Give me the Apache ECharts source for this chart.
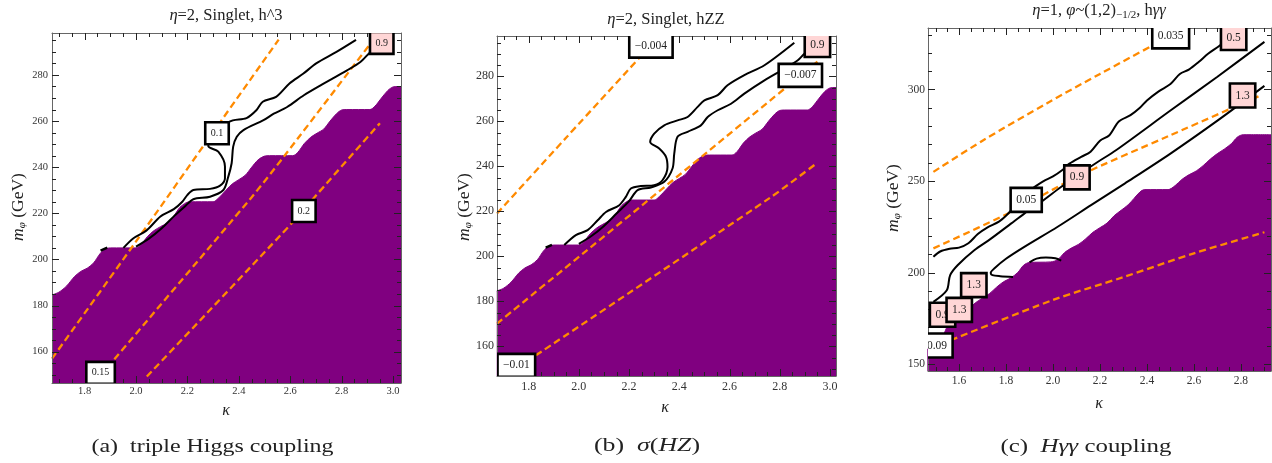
<!DOCTYPE html>
<html><head><meta charset="utf-8">
<script src="https://cdn.jsdelivr.net/npm/echarts@6/dist/echarts.min.js"></script>
<style>html,body{margin:0;padding:0;background:#fff}#c{width:1272px;height:463px}</style>
</head><body><div id="c"></div>
<script>
// ---------------- tick labels ----------------
const kappaTicksAB = [1.8, 2.0, 2.2, 2.4, 2.6, 2.8, 3.0];
const massTicksAB = [160, 180, 200, 220, 240, 260, 280];
const kappaTicksC = [1.6, 1.8, 2.0, 2.2, 2.4, 2.6, 2.8];
const massTicksC = [150, 200, 250, 300];

// ---------------- excluded (purple) regions ----------------
const excludedSinglet = [[1.673,184.6],[1.70,185.8],[1.73,188.5],[1.76,192.5],[1.785,194.8],[1.81,196.2],[1.835,198.5],[1.86,202.5],[1.88,204.5],[1.90,205],[2.00,205],[2.02,206.5],[2.045,210],[2.07,212.5],[2.095,214.2],[2.12,215.8],[2.145,218.5],[2.17,222.5],[2.195,224.6],[2.21,225],[2.30,225],[2.32,226.5],[2.35,230],[2.375,232.8],[2.40,234.6],[2.425,236.5],[2.45,240],[2.475,243.2],[2.50,244.8],[2.52,245],[2.61,245],[2.63,246.5],[2.655,250.3],[2.68,253],[2.705,254.8],[2.73,256.5],[2.755,260],[2.78,263.2],[2.80,264.8],[2.82,265],[2.91,265],[2.93,266.5],[2.955,270],[2.98,273.3],[3.00,274.8],[3.02,275],[3.035,275]];
const excludedDoublet = [[1.465,158],[1.50,161],[1.53,165],[1.555,172],[1.58,175.5],[1.61,177.5],[1.64,180],[1.67,183.5],[1.70,186],[1.73,188.5],[1.76,192],[1.79,195],[1.82,197],[1.85,200],[1.875,204],[1.90,205.5],[1.99,205.8],[2.02,207],[2.05,211],[2.08,213.5],[2.11,215.5],[2.14,218.5],[2.17,222],[2.20,224.5],[2.23,227],[2.26,231],[2.29,234],[2.32,237],[2.345,240.5],[2.37,244],[2.39,245.3],[2.49,245.3],[2.52,247.5],[2.55,251],[2.58,253.5],[2.61,255.5],[2.64,258.5],[2.67,262],[2.70,265],[2.73,267.5],[2.76,270.5],[2.785,274],[2.81,275.3],[2.93,275.3]];

// ---------------- (a) h^3 ----------------
const h3Dashed1 = [[1.673,157],[2.0,207.8],[2.3,255.2],[2.555,295.3]];
const h3Dashed2 = [[1.86,149.5],[1.905,155.3],[2.45,227],[2.58,245.3],[2.923,295.2]];
const h3Dashed3 = [[2.042,149.2],[2.606,215.7],[2.696,227.2],[2.949,259.1]];
const h3ContourUpper = [[1.951,205],[1.99,209.2],[2.04,212.5],[2.095,218.6],[2.147,221.8],[2.18,225],[2.2,228],[2.223,230.1],[2.288,230.6],[2.327,232],[2.346,235.2],[2.346,240.3],[2.32,246.7],[2.281,249.2],[2.363,259.7],[2.43,261.3],[2.469,264.8],[2.493,268.4],[2.545,270.5],[2.597,276.3],[2.65,280.5],[2.701,285],[2.78,290],[2.856,295.2]];
const h3ContourLower = [[2.0,205.5],[2.05,209],[2.10,213.5],[2.15,219],[2.19,223],[2.223,226.1],[2.288,227.2],[2.34,230.1],[2.359,235.9],[2.372,241.7],[2.378,248.9],[2.392,253.2],[2.418,256.1],[2.496,260.4],[2.536,263.2],[2.588,266.1],[2.653,271.2],[2.718,275.5],[2.821,282],[2.873,285.6],[2.912,290],[2.94,292.5]];
const h3Stub = [[1.862,203.8],[1.888,205.1]];
const h3LabelsWhite = [[1.862,150.8,'0.15'],[2.315,254.7,'0.1'],[2.653,221,'0.2']];
const h3LabelsPink = [[2.956,293.9,'0.9']];

// ---------------- (b) hZZ ----------------
const hzzDashed1 = [[1.674,219],[1.95,252.8],[2.26,290.5]];
const hzzDashed2 = [[1.674,170.1],[2.51,246.2],[2.95,286.5]];
const hzzDashed3 = [[1.829,156],[2.761,226],[2.95,241.6]];
const hzzContourUpper = [[1.942,205],[1.988,209.4],[2.035,211.6],[2.075,216],[2.108,219.7],[2.161,222.7],[2.187,226.4],[2.207,230.1],[2.247,231.2],[2.3,231.6],[2.333,233.8],[2.353,239.7],[2.347,244.2],[2.32,247.9],[2.284,250.8],[2.3,254.5],[2.34,258.2],[2.393,260.4],[2.433,261.9],[2.473,266.4],[2.5,269.3],[2.553,271.6],[2.592,276],[2.659,280.5],[2.739,284.9],[2.858,294.9]];
const hzzContourLower = [[2.0,205.5],[2.05,209],[2.1,213.5],[2.15,219],[2.2,224.5],[2.234,229.4],[2.287,230.6],[2.34,233.1],[2.373,239],[2.38,245.7],[2.393,253.1],[2.433,255.3],[2.486,258.2],[2.513,261.9],[2.553,264.9],[2.606,267.8],[2.659,272.3],[2.739,278.2],[2.819,283.4],[2.872,287.1],[2.899,290.1],[2.93,292.5]];
const hzzStub = [[1.868,203.8],[1.893,205.1]];
const hzzLabelsWhite = [[2.287,293.4,'\u22120.004'],[2.882,280.4,'\u22120.007'],[1.751,151.5,'\u22120.01']];
const hzzLabelsPink = [[2.95,293.7,'0.9']];

// ---------------- (c) hγγ ----------------
const hggDashed1 = [[1.491,255],[1.7,272],[1.973,292.4],[2.2,308.5],[2.426,324.2]];
const hggDashed2 = [[1.491,213.2],[1.824,233.2],[2.114,253],[2.5,275],[2.886,296.9]];
const hggDashed3 = [[1.565,163],[2.0,185],[2.3,197.5],[2.6,210.5],[2.9,222]];
const hggContourWavy = [[1.491,208.6],[1.52,211.5],[1.56,213],[1.60,213.6],[1.64,216],[1.68,221],[1.72,224.5],[1.77,227.8],[1.80,231],[1.83,235],[1.86,238],[1.89,243.5],[1.93,247.5],[1.96,250],[2.00,252.5],[2.04,256],[2.07,259.5],[2.12,263.2],[2.16,266],[2.20,272],[2.24,275],[2.28,282.5],[2.33,286],[2.37,290],[2.40,294],[2.45,299],[2.50,303],[2.54,308.5],[2.58,311],[2.62,315],[2.66,319.5],[2.71,324],[2.745,328]];
const hggContourMid = [[1.491,184],[1.548,190.3],[1.562,198.5],[1.594,204],[1.665,212.2],[1.736,218.5],[1.821,226.7],[1.878,232.2],[1.949,238.5],[2.034,246.7],[2.105,253.1],[2.19,260.4],[2.268,266.8],[2.5,288.5],[2.7,307],[2.9,326]];
const hggContourLow = [[1.83,197.6],[1.775,198],[1.742,198.6],[1.735,199.8],[1.75,202.2],[1.80,207.5],[1.878,214],[2.02,225],[2.162,236.8],[2.305,248.6],[2.5,265],[2.7,283],[2.9,302]];
const hggArc = [[1.90,205.6],[1.93,207.6],[1.97,208.2],[2.01,207.8],[2.035,206.5]];
const hggLabelsPink = [[1.53,176.9,'0.9'],[1.601,179.6,'1.3'],[1.663,193.1,'1.3'],[2.102,252,'0.9'],[2.807,296.7,'1.3'],[2.769,328.1,'0.5']];
const hggLabelsWhite = [[1.5065,160.1,'0.09'],[1.886,239.7,'0.05'],[2.501,329,'0.035']];

// ---------------- helpers ----------------
const SERIF = '"Liberation Serif"';
const ctx = document.createElement('canvas').getContext('2d');
function fontStr(fs, it) { return (it ? 'italic ' : '') + fs + 'px ' + SERIF; }
function tw(t, fs, it) { ctx.font = fontStr(fs, it); return ctx.measureText(t).width; }
function textLine(segs, cx, cy, fs, opts) {
  opts = opts || {};
  const ws = segs.map(s => tw(s.t, s.fs || fs, s.it));
  const total = ws.reduce((a, b) => a + b, 0);
  let x = -total / 2;
  const children = segs.map((s, i) => {
    const el = { type: 'text', x: x, y: s.dy || 0,
      style: { text: s.t, font: fontStr(s.fs || fs, s.it), fill: '#222', align: 'left', verticalAlign: 'middle' } };
    x += ws[i];
    return el;
  });
  return { type: 'group', x: cx, y: cy, rotation: opts.rot || 0, scaleX: opts.width ? opts.width / total : 1, children };
}
function minorVals(lo, hi, step) {
  const out = [];
  for (let k = Math.ceil(lo / step - 1e-9); k * step <= hi + 1e-9; k++) out.push(+(k * step).toFixed(6));
  return out;
}

const panels = [
  { grid: { left: 52, top: 33, width: 349, height: 350 }, x: [1.673, 3.031], y: [146.4, 298.2], xt: kappaTicksAB, yt: massTicksAB, xs: 0.05, ys: 5, fs: 10.5, xm: 3, ym: 4 },
  { grid: { left: 497, top: 36, width: 339, height: 340 }, x: [1.674, 3.024], y: [146.8, 297.9], xt: kappaTicksAB, yt: massTicksAB, xs: 0.05, ys: 5, fs: 12, xm: 5, ym: 3 },
  { grid: { left: 928, top: 28, width: 343, height: 343 }, x: [1.468, 2.928], y: [146.2, 333.6], xt: kappaTicksC, yt: massTicksC, xs: 0.05, ys: 10, fs: 11.5, xm: 4, ym: 3 }
];

const grids = [], xAxes = [], yAxes = [];
panels.forEach((p, gi) => {
  grids.push(Object.assign({ containLabel: false }, p.grid));
  const mk = (dim, pos, labels) => {
    const ticks = dim === 'x' ? p.xt : p.yt;
    return {
      type: 'value', gridIndex: gi, position: pos, min: dim === 'x' ? p.x[0] : p.y[0], max: dim === 'x' ? p.x[1] : p.y[1], z: 10,
      axisLine: { show: true, onZero: false, lineStyle: { color: '#666', width: 1 } },
      axisTick: { show: false },
      axisLabel: { show: labels, customValues: ticks, margin: dim === 'x' ? p.xm : p.ym, fontSize: p.fs, fontFamily: 'Liberation Serif', color: '#333',
        formatter: v => dim === 'x' ? (+v).toFixed(1) : String(Math.round(v)) },
      splitLine: { show: false }
    };
  };
  xAxes.push(mk('x', 'bottom', true), mk('x', 'top', false));
  yAxes.push(mk('y', 'left', true), mk('y', 'right', false));
});

const PURPLE = '#800080', ORANGE = '#ff8a00', PINK = '#ffd6d6';
const XA = gi => gi * 2;
function area(gi, data) {
  return { type: 'line', xAxisIndex: XA(gi), yAxisIndex: XA(gi), data, symbol: 'none', smooth: 0.3, z: 1,
    lineStyle: { color: PURPLE, width: 1 }, areaStyle: { color: PURPLE, opacity: 1, origin: 'start' } };
}
function dashed(gi, data) {
  return { type: 'line', xAxisIndex: XA(gi), yAxisIndex: XA(gi), data, symbol: 'none', smooth: 0.3, z: 3,
    lineStyle: { color: ORANGE, width: 2.3, type: [7, 4], cap: 'butt' } };
}
function contour(gi, data, w) {
  return { type: 'line', xAxisIndex: XA(gi), yAxisIndex: XA(gi), data, symbol: 'none', smooth: 0.3, z: 4,
    lineStyle: { color: '#000', width: w || 2 } };
}
function labels(gi, items, fill, fs, h) {
  return {
    type: 'custom', xAxisIndex: XA(gi), yAxisIndex: XA(gi), clip: true, z: 20, silent: true,
    data: items.map(d => [d[0], d[1]]),
    renderItem: (params, api) => {
      const c = api.coord([api.value(0), api.value(1)]);
      const txt = items[params.dataIndex][2];
      const w = Math.max(tw(txt, fs, false) + 11, 23);
      return { type: 'group', children: [
        { type: 'rect', shape: { x: c[0] - w / 2, y: c[1] - h / 2, width: w, height: h }, style: { fill, stroke: '#000', lineWidth: 2.6 } },
        { type: 'text', x: c[0], y: c[1], style: { text: txt, font: fontStr(fs, false), fill: '#222', align: 'center', verticalAlign: 'middle' } }
      ] };
    }
  };
}
// frame ticks (major + minor, on all four sides), placed through the axes' scales
function ticks(gi) {
  const p = panels[gi];
  const items = [];
  const isMajor = (arr, v) => arr.some(t => Math.abs(t - v) < 1e-6);
  p.xt.forEach(v => items.push([v, p.y[0], 0]));
  minorVals(p.x[0], p.x[1], p.xs).forEach(v => { if (!isMajor(p.xt, v)) items.push([v, p.y[0], 1]); });
  p.yt.forEach(v => items.push([p.x[0], v, 2]));
  minorVals(p.y[0], p.y[1], p.ys).forEach(v => { if (!isMajor(p.yt, v)) items.push([p.x[0], v, 3]); });
  return {
    type: 'custom', xAxisIndex: XA(gi), yAxisIndex: XA(gi), clip: false, z: 15, silent: true,
    data: items.map(d => [d[0], d[1]]),
    renderItem: (params, api) => {
      const cs = params.coordSys;
      const d = items[params.dataIndex];
      const c = api.coord([api.value(0), api.value(1)]);
      const major = (d[2] === 0 || d[2] === 2);
      const L = major ? 7 : 4;
      const col = '#222';
      if (d[2] < 2) {
        const x = Math.round(c[0]), yb = Math.round(cs.y + cs.height), yt = Math.round(cs.y);
        return { type: 'group', children: [
          { type: 'rect', shape: { x: x, y: yb - L, width: 1, height: L }, style: { fill: col } },
          { type: 'rect', shape: { x: x, y: yt, width: 1, height: L }, style: { fill: col } } ] };
      }
      const y = Math.round(c[1]), xl = Math.round(cs.x), xr = Math.round(cs.x + cs.width);
      return { type: 'group', children: [
        { type: 'rect', shape: { x: xl, y: y, width: L, height: 1 }, style: { fill: col } },
        { type: 'rect', shape: { x: xr - L, y: y, width: L, height: 1 }, style: { fill: col } } ] };
    }
  };
}

const series = [
  area(0, excludedSinglet), dashed(0, h3Dashed1), dashed(0, h3Dashed2), dashed(0, h3Dashed3),
  contour(0, h3ContourUpper), contour(0, h3ContourLower), contour(0, h3Stub, 2.5),
  labels(0, h3LabelsPink, PINK, 10, 22), labels(0, h3LabelsWhite, '#fff', 10, 22), ticks(0),

  area(1, excludedSinglet), dashed(1, hzzDashed1), dashed(1, hzzDashed2), dashed(1, hzzDashed3),
  contour(1, hzzContourUpper), contour(1, hzzContourLower), contour(1, hzzStub, 2.5),
  labels(1, hzzLabelsPink, PINK, 11.5, 23), labels(1, hzzLabelsWhite, '#fff', 11.5, 23), ticks(1),

  area(2, excludedDoublet), dashed(2, hggDashed1), dashed(2, hggDashed2), dashed(2, hggDashed3),
  contour(2, hggContourWavy), contour(2, hggContourMid), contour(2, hggContourLow), contour(2, hggArc),
  labels(2, hggLabelsPink, PINK, 11.5, 24), labels(2, hggLabelsWhite, '#fff', 11.5, 24), ticks(2)
];

const graphics = [
  textLine([{ t: 'η', it: 1 }, { t: '=2, Singlet, h^3' }], 226, 16, 16.5),
  textLine([{ t: 'η', it: 1 }, { t: '=2, Singlet, hZZ' }], 666, 20, 16.5),
  textLine([{ t: 'η', it: 1 }, { t: '=1, ' }, { t: 'φ', it: 1 }, { t: '~(1,2)' }, { t: '\u22121/2', fs: 11, dy: 4 }, { t: ', h' }, { t: 'γγ', it: 1 }], 1099, 11, 16.5),
  textLine([{ t: 'm', it: 1 }, { t: 'φ', it: 1, fs: 11, dy: 4 }, { t: ' (GeV)' }], 18, 207, 17.5, { rot: Math.PI / 2 }),
  textLine([{ t: 'm', it: 1 }, { t: 'φ', it: 1, fs: 11, dy: 4 }, { t: ' (GeV)' }], 464, 207, 17.5, { rot: Math.PI / 2 }),
  textLine([{ t: 'm', it: 1 }, { t: 'φ', it: 1, fs: 11, dy: 4 }, { t: ' (GeV)' }], 893, 198, 17.5, { rot: Math.PI / 2 }),
  textLine([{ t: 'κ', it: 1 }], 226, 411, 16),
  textLine([{ t: 'κ', it: 1 }], 665, 408, 16),
  textLine([{ t: 'κ', it: 1 }], 1099, 404, 16),
  textLine([{ t: '(a)  triple Higgs coupling' }], 212.5, 447, 18, { width: 242 }),
  textLine([{ t: '(b)  ' }, { t: 'σ', it: 1 }, { t: '(' }, { t: 'HZ', it: 1 }, { t: ')' }], 647, 446, 18, { width: 106 }),
  textLine([{ t: '(c)  ' }, { t: 'Hγγ', it: 1 }, { t: ' coupling' }], 1086, 447, 18, { width: 171 })
];

const chart = echarts.init(document.getElementById('c'), null, { renderer: 'canvas' });
chart.setOption({
  animation: false,
  backgroundColor: '#fff',
  grid: grids, xAxis: xAxes, yAxis: yAxes, series,
  graphic: { elements: graphics }
});
</script></body></html>
